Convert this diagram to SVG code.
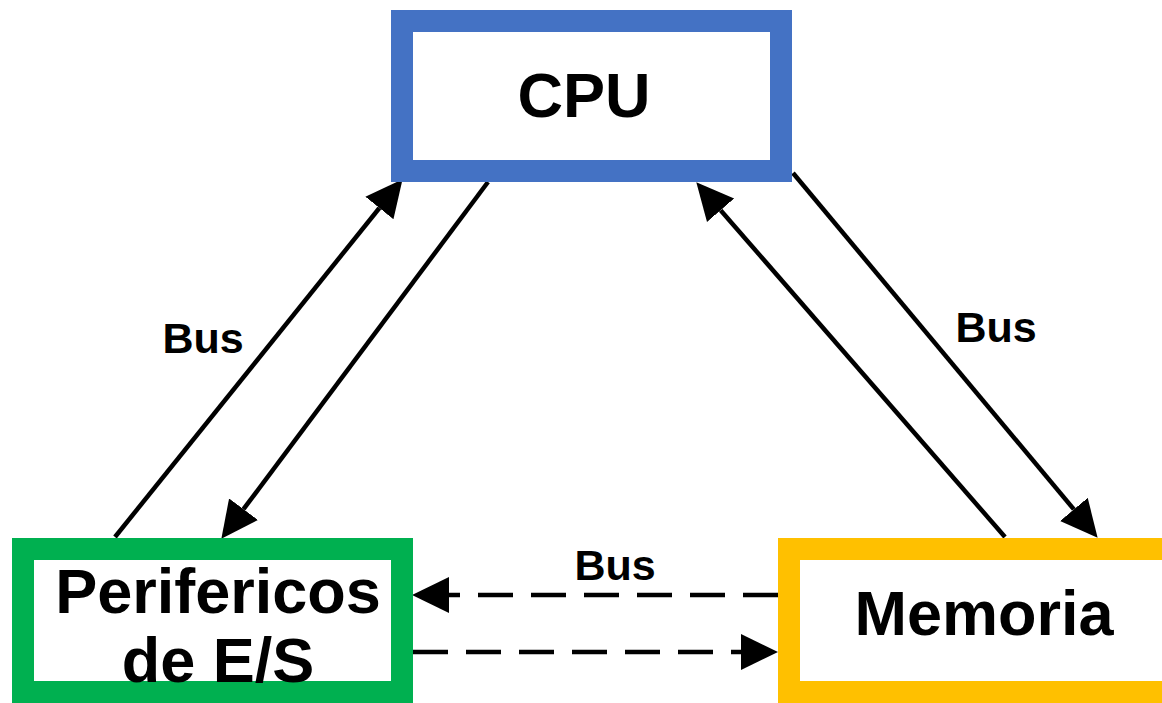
<svg xmlns="http://www.w3.org/2000/svg" width="1162" height="703" viewBox="0 0 1162 703">
<style>
.box{fill:#fff;stroke-width:22}
.lbl{font-family:"Liberation Sans",Arial,sans-serif;font-weight:bold;fill:#000;text-anchor:middle}
.node{font-size:63px}
.bus{font-size:43px}
.conn{stroke:#000;stroke-width:4.5;fill:none}
.dash{stroke-dasharray:35 18}
</style>
<defs>
<marker id="ah" markerUnits="userSpaceOnUse" markerWidth="40" markerHeight="40" refX="0" refY="18" orient="auto" viewBox="0 0 40 36">
<path d="M0,0 L37,18 L0,36 Z" fill="#000"/>
</marker>
</defs>
<rect width="1162" height="703" fill="#fff"/>
<g id="connectors">
<line class="conn" x1="115" y1="537" x2="379.4" y2="208" marker-end="url(#ah)"/>
<line class="conn" x1="488" y1="182" x2="243.5" y2="509.2" marker-end="url(#ah)"/>
<line class="conn" x1="1005" y1="537" x2="720.6" y2="210.2" marker-end="url(#ah)"/>
<line class="conn" x1="793" y1="173" x2="1073.9" y2="509.4" marker-end="url(#ah)"/>
<line class="conn dash" x1="778" y1="595" x2="449" y2="595" marker-end="url(#ah)"/>
<line class="conn dash" x1="413" y1="652" x2="741" y2="652" marker-end="url(#ah)"/>
<text class="lbl bus" x="203" y="353">Bus</text>
<text class="lbl bus" x="996" y="342">Bus</text>
<text class="lbl bus" x="615" y="580">Bus</text>
</g>
<g id="cpu">
<rect class="box" x="402" y="21" width="379" height="150" stroke="#4472C4"/>
<text class="lbl node" x="584" y="117">CPU</text>
</g>
<g id="perifericos">
<rect class="box" x="23" y="549" width="379" height="143" stroke="#00B050"/>
<text class="lbl node" x="218" y="613">Perifericos</text>
<text class="lbl node" x="218" y="682">de E/S</text>
</g>
<g id="memoria">
<rect class="box" x="789" y="549" width="390" height="143" stroke="#FFC000"/>
<text class="lbl node" x="984" y="635">Memoria</text>
</g>
</svg>
